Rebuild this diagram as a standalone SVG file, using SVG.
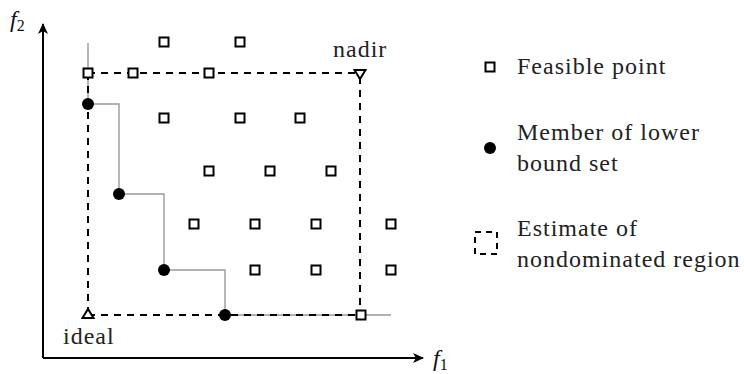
<svg xmlns="http://www.w3.org/2000/svg" width="744" height="374" viewBox="0 0 744 374">
<defs>
<marker id="ah" markerWidth="12" markerHeight="10" refX="10" refY="5" orient="auto" markerUnits="userSpaceOnUse">
<path d="M0,0 L11,5 L0,10 L3,5 Z" fill="#000"/>
</marker>
<rect id="s" x="-4.5" y="-4.5" width="9" height="9" fill="#fff" stroke="#000" stroke-width="2"/>
<circle id="c" r="6" fill="#000"/>
</defs>
<rect width="744" height="374" fill="#fff"/>
<g id="connectors" fill="none">
<path stroke="#000" stroke-width="2" d="M43,358 L43,24" marker-end="url(#ah)"/>
<path stroke="#000" stroke-width="2" d="M43,358 L423,358" marker-end="url(#ah)"/>
<path stroke="#999" stroke-width="1.4" d="M88,43 L88,104 L119,104 L119,194 L164,194 L164,270 L225,270 L225,315 L391,315"/>
<path stroke="#000" stroke-width="2" stroke-dasharray="7,6" d="M88,73 L360,73 M360,77 L360,315 M88,315 L360,315 M88,73 L88,315"/>
</g>
<g id="axis-labels">
<text x="10" y="27" font-family="Liberation Serif" font-size="24" font-style="italic" fill="#111">f<tspan font-style="normal" font-size="16" dy="4">2</tspan></text>
<text x="433" y="366" font-family="Liberation Serif" font-size="24" font-style="italic" fill="#111">f<tspan font-style="normal" font-size="16" dy="4">1</tspan></text>
</g>
<g id="feasible">
<use href="#s" x="164" y="42"/><use href="#s" x="240" y="42"/>
<use href="#s" x="88" y="73"/><use href="#s" x="133" y="73"/><use href="#s" x="209" y="73"/>
<use href="#s" x="164" y="118"/><use href="#s" x="240" y="118"/><use href="#s" x="300" y="118"/>
<use href="#s" x="209" y="171"/><use href="#s" x="270" y="171"/><use href="#s" x="331" y="171"/>
<use href="#s" x="194" y="224"/><use href="#s" x="255" y="224"/><use href="#s" x="316" y="224"/><use href="#s" x="391" y="224"/>
<use href="#s" x="255" y="270"/><use href="#s" x="316" y="270"/><use href="#s" x="391" y="270"/>
<use href="#s" x="361" y="315"/>
</g>
<g id="lower-bound">
<use href="#c" x="88" y="104"/>
<use href="#c" x="119" y="194"/>
<use href="#c" x="164" y="270"/>
<use href="#c" x="225" y="315"/>
</g>
<g id="nadir">
<path fill="#fff" stroke="#000" stroke-width="2" d="M354.5,70 L365.5,70 L360,79 Z"/>
<text x="333" y="57" font-family="Liberation Serif" font-size="24" letter-spacing="1" fill="#222">nadir</text>
</g>
<g id="ideal">
<path fill="#fff" stroke="#000" stroke-width="2" d="M82.5,318 L93.5,318 L88,309 Z"/>
<text x="63" y="344" font-family="Liberation Serif" font-size="24" letter-spacing="1" fill="#222">ideal</text>
</g>
<g id="legend">
<use href="#s" x="490" y="67"/>
<text x="517" y="74" font-family="Liberation Serif" font-size="24" letter-spacing="1" fill="#222">Feasible point</text>
<use href="#c" x="490" y="148"/>
<text x="517" y="140" font-family="Liberation Serif" font-size="24" letter-spacing="1" fill="#222">Member of lower</text>
<text x="517" y="171" font-family="Liberation Serif" font-size="24" letter-spacing="1" fill="#222">bound set</text>
<path fill="none" stroke="#000" stroke-width="2" stroke-dasharray="6,5" d="M475,232 L497,232 L497,254 L475,254 Z"/>
<text x="517" y="236" font-family="Liberation Serif" font-size="24" letter-spacing="1" fill="#222">Estimate of</text>
<text x="517" y="267" font-family="Liberation Serif" font-size="24" letter-spacing="1" fill="#222">nondominated region</text>
</g>
</svg>
